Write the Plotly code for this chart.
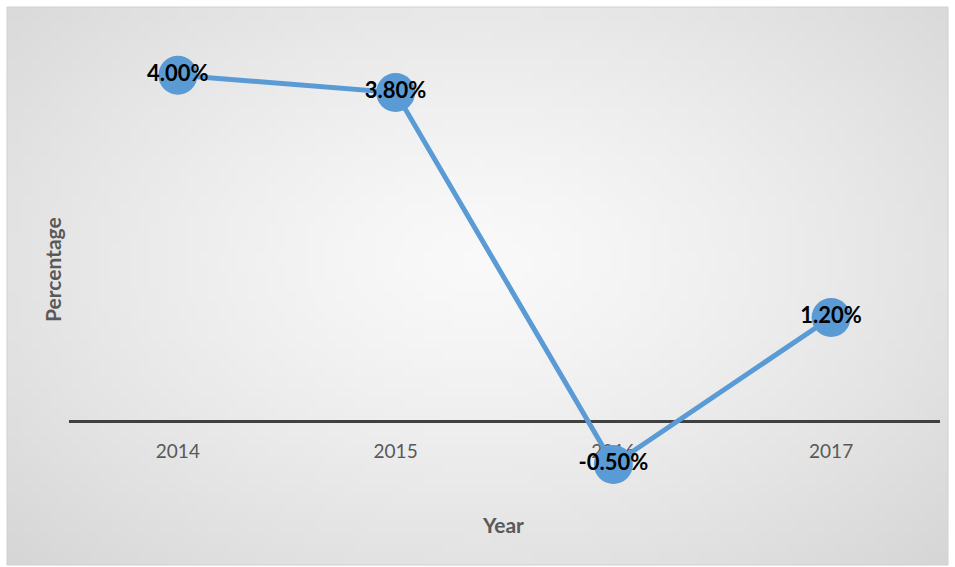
import base64, struct, zlib, math
import plotly.graph_objects as go

years = ["2014", "2015", "2016", "2017"]
values = [4.00, 3.80, -0.50, 1.20]
labels = ["4.00%", "3.80%", "-0.50%", "1.20%"]

W, H = 955, 567

def make_png(w, h):
    rows = b""
    c0, c1 = 249.0, 214.0
    for y in range(h):
        row = bytearray([0])
        for x in range(w):
            dx = (x / (w - 1) - 0.5) / 0.5
            dy = (y / (h - 1) - 0.45) / 0.55
            r = min(1.0, math.sqrt(dx * dx + dy * dy) / math.sqrt(2))
            v = int(round(c0 + (c1 - c0) * r ** 1.3))
            row += bytes([v, v, v])
        rows += bytes(row)
    def chunk(t, d):
        c = struct.pack(">I", len(d)) + t + d
        return c + struct.pack(">I", zlib.crc32(t + d) & 0xffffffff)
    png = b"\x89PNG\r\n\x1a\n"
    png += chunk(b"IHDR", struct.pack(">IIBBBBB", w, h, 8, 2, 0, 0, 0))
    png += chunk(b"IDAT", zlib.compress(rows, 9))
    png += chunk(b"IEND", b"")
    return "data:image/png;base64," + base64.b64encode(png).decode()

bg = make_png(96, 58)

fig = go.Figure()
fig.add_trace(go.Scatter(
    x=years, y=values, mode="lines+markers+text",
    line=dict(color="#5B9BD5", width=5),
    marker=dict(size=39, color="#5B9BD5"),
    text=labels, textposition="middle center",
    textfont=dict(family="Lato", size=22, color="#000000", weight="bold"),
    cliponaxis=False, hoverinfo="skip",
))

plot_top, plot_bot = 32, 551
zero_px = 421
fig.update_layout(
    width=W, height=H,
    margin=dict(l=0, r=0, t=0, b=0),
    paper_bgcolor="white", plot_bgcolor="rgba(0,0,0,0)",
    showlegend=False,
    xaxis=dict(
        type="category", range=[-0.5, 3.5],
        domain=[69 / W, 940 / W],
        anchor="free", position=1 - zero_px / H,
        showline=True, linecolor="#404040", linewidth=3,
        showgrid=False, zeroline=False,
        ticks="outside", ticklen=12, tickcolor="rgba(0,0,0,0)",
        tickfont=dict(family="Lato", size=19, color="#595959"),
        layer="below traces",
    ),
    yaxis=dict(
        range=[-1.5, 4.5],
        domain=[1 - plot_bot / H, 1 - plot_top / H],
        visible=False,
    ),
    images=[dict(
        source=bg, xref="paper", yref="paper",
        x=7 / W, y=1 - 7 / H, sizex=(948 - 7) / W, sizey=(565 - 7) / H,
        xanchor="left", yanchor="top", sizing="stretch", layer="below",
    )],
    shapes=[dict(
        type="rect", xref="paper", yref="paper",
        x0=7 / W, x1=948 / W, y0=1 - 565 / H, y1=1 - 7 / H,
        line=dict(color="#d0d0d0", width=1), fillcolor="rgba(0,0,0,0)",
        layer="below",
    )],
    annotations=[
        dict(text="<b>Year</b>", xref="paper", yref="paper",
             x=503 / W, y=1 - 524 / H, xanchor="center", yanchor="middle",
             showarrow=False,
             font=dict(family="Lato", size=21, color="#595959")),
        dict(text="<b>Percentage</b>", xref="paper", yref="paper",
             x=52 / W, y=1 - 270 / H, xanchor="center", yanchor="middle",
             showarrow=False, textangle=-90,
             font=dict(family="Lato", size=21, color="#595959")),
    ],
)

fig.write_html("out.html")
